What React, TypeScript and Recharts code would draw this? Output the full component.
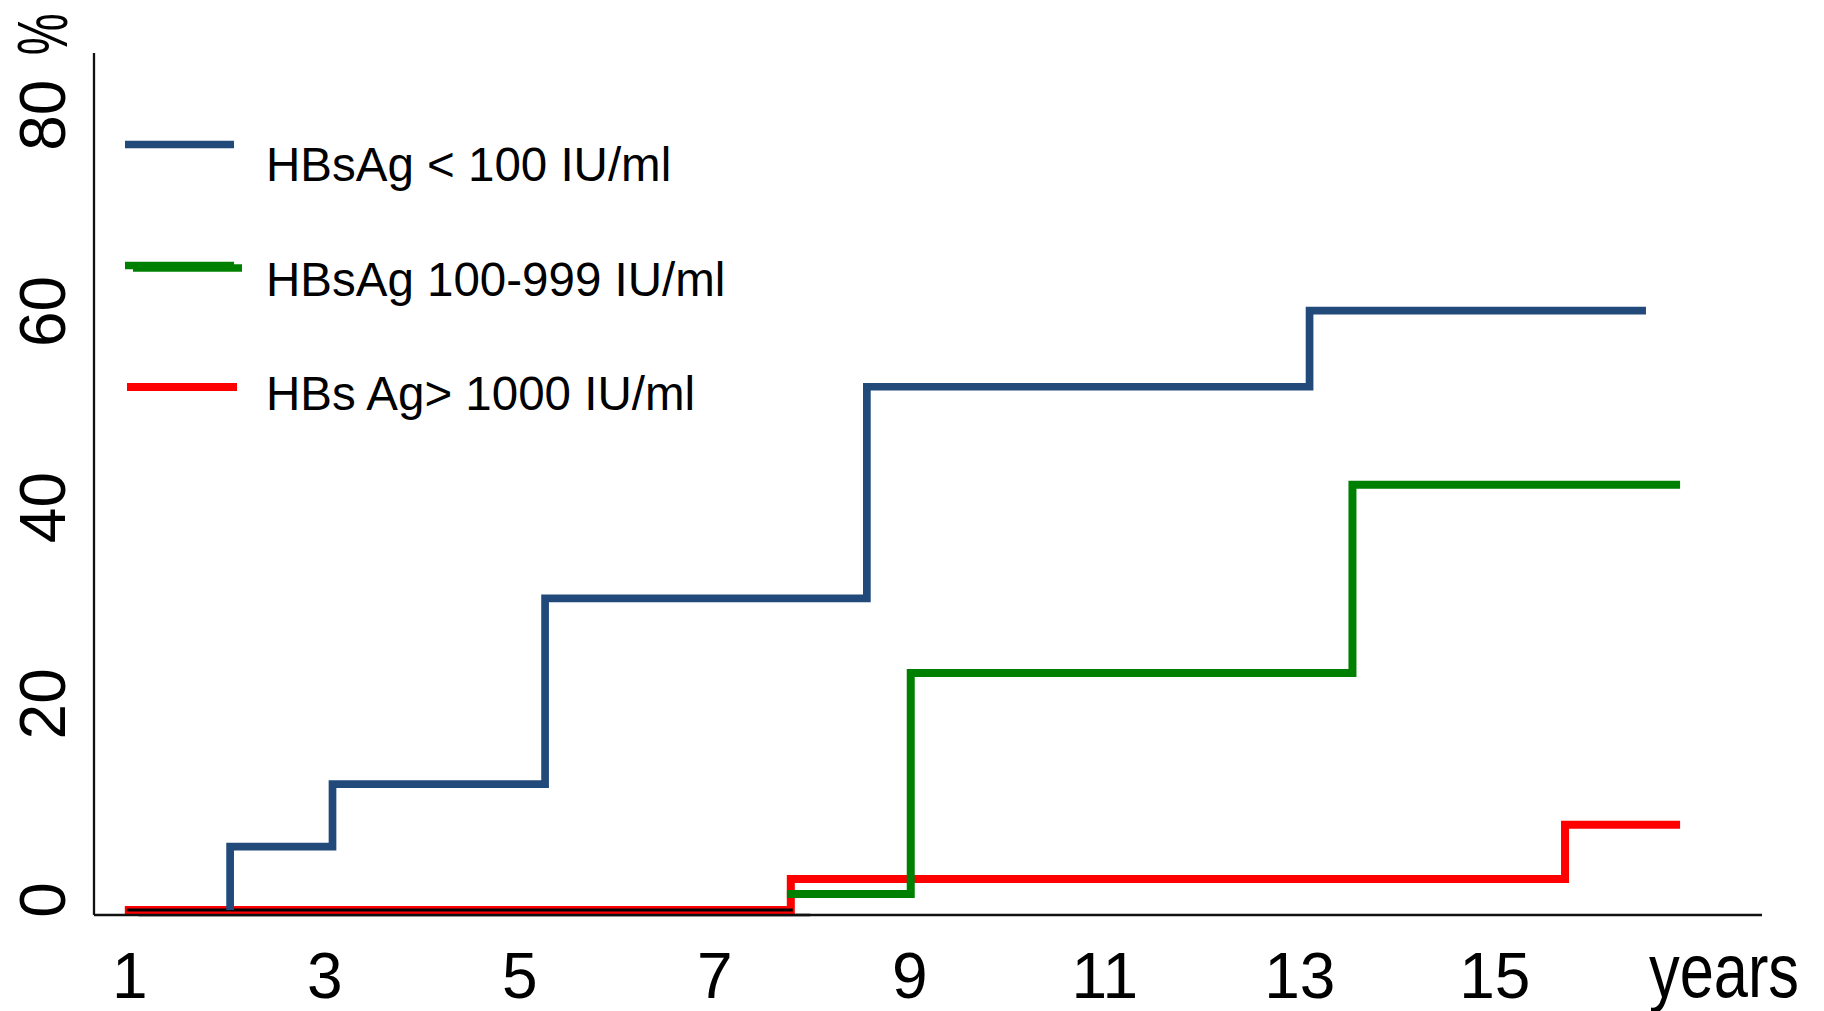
import { Legend, Line, LineChart, ReferenceLine, XAxis, YAxis } from "recharts";

const FONT = '"Liberation Sans", Arial, Helvetica, sans-serif';

// cumulative incidence (%) by year, one step curve per HBsAg group,
// each drawn from its first event (all groups sit at 0 before that)
const lowYears = [2.03, 2.03, 3.08, 5.26, 8.56, 13.1, 16.55];
const lowPct = [0, 6.45, 12.84, 31.77, 53.34, 61.09, 61.09];

const midYears = [7.74, 9.01, 13.54, 16.9];
const midPct = [1.63, 24.16, 43.35, 43.35];

const highYears = [0.95, 7.78, 15.72, 16.9];
const highPct = [0, 3.16, 8.7, 8.7];

// thin dark trace lying on the flat start of the red curve
const zeroYears = [0.97, 7.8];
const zeroPct = [0, 0];

// grey stretch of the time axis
const greyAxisYears = [1.09, 7.98];

const xTicks = [1, 3, 5, 7, 9, 11, 13, 15];
const yTicks = [0, 20, 40, 60, 80];

const groupNames = ["HBsAg < 100 IU/ml", "HBsAg 100-999 IU/ml", "HBs Ag> 1000 IU/ml"];

const X_DOMAIN: [number, number] = [0.634, 17.74];
const Y_DOMAIN: [number, number] = [-0.51, 87.36];

const BLUE = "#214a7b";
const GREEN = "#008000";
const RED = "#ff0000";
const AXIS = "#111111";

const toPoints = (xs: number[], ys: number[]) => xs.map((x, i) => ({ x, y: ys[i] }));

const lowData = toPoints(lowYears, lowPct);
const midData = toPoints(midYears, midPct);
const highData = toPoints(highYears, highPct);
const zeroData = toPoints(zeroYears, zeroPct);

function XTick(props: any) {
  const { x, y, payload } = props;
  return (
    <text x={x} y={y + 83} textAnchor="middle" fontFamily={FONT} fontSize={64} fill="#000">
      {payload.value}
    </text>
  );
}

function YTick(props: any) {
  const { x, y, payload } = props;
  const bx = x - 29;
  const cy = y - 10;
  return (
    <g>
      <text
        x={bx}
        y={cy}
        transform={`rotate(-90 ${bx} ${cy})`}
        textAnchor="middle"
        fontFamily={FONT}
        fontSize={64}
        fill="#000"
      >
        {payload.value}
      </text>
      {payload.value === 80 && (
        <text
          x={bx + 2}
          y={cy - 81}
          transform={`rotate(-90 ${bx + 2} ${cy - 81})`}
          textAnchor="middle"
          fontFamily={FONT}
          fontSize={70}
          textLength={42}
          lengthAdjust="spacingAndGlyphs"
          fill="#000"
        >
          %
        </text>
      )}
    </g>
  );
}

function YearsLabel(props: any) {
  const { x, y, width } = props.viewBox;
  return (
    <text
      x={x + width - 38}
      y={y + 82}
      textAnchor="middle"
      fontFamily={FONT}
      fontSize={76}
      textLength={150}
      lengthAdjust="spacingAndGlyphs"
      fill="#000"
    >
      years
    </text>
  );
}

function KeyPanel() {
  const rows = [144.5, 266.5, 387];
  const text = [181, 295.5, 409.5];
  return (
    <svg width={900} height={440} style={{ display: "block" }}>
      <line x1={125} x2={234} y1={rows[0]} y2={rows[0]} stroke={BLUE} strokeWidth={7.7} />
      <line x1={125} x2={234} y1={rows[1] - 1} y2={rows[1] - 1} stroke={GREEN} strokeWidth={7.4} />
      <line x1={133} x2={242} y1={rows[1] + 1.5} y2={rows[1] + 1.5} stroke={GREEN} strokeWidth={7.4} />
      <line x1={127} x2={237} y1={rows[2]} y2={rows[2]} stroke={RED} strokeWidth={8} />
      {groupNames.map((name, i) => (
        <text key={name} x={266} y={text[i]} fontFamily={FONT} fontSize={47.5} fill="#000">
          {name}
        </text>
      ))}
    </svg>
  );
}

export default function App() {
  return (
    <div style={{ position: "absolute", left: 0, top: 0, fontFamily: FONT, background: "#fff" }}>
      <LineChart width={1824} height={1011} margin={{ top: 53, right: 62, bottom: 0, left: 0 }}>
        <XAxis
          type="number"
          dataKey="x"
          domain={X_DOMAIN}
          allowDataOverflow
          ticks={xTicks}
          interval={0}
          height={96}
          tickLine={false}
          tickSize={0}
          tickMargin={0}
          axisLine={{ stroke: AXIS, strokeWidth: 2.7 }}
          tick={<XTick />}
          label={<YearsLabel />}
        />
        <YAxis
          type="number"
          domain={Y_DOMAIN}
          allowDataOverflow
          ticks={yTicks}
          interval={0}
          width={94}
          tickLine={false}
          tickSize={0}
          tickMargin={0}
          axisLine={{ stroke: AXIS, strokeWidth: 2.3 }}
          tick={<YTick />}
        />
        <ReferenceLine
          segment={[
            { x: greyAxisYears[0], y: Y_DOMAIN[0] },
            { x: greyAxisYears[1], y: Y_DOMAIN[0] },
          ]}
          stroke="#808080"
          strokeWidth={3}
        />
        <Legend
          layout="horizontal"
          verticalAlign="middle"
          align="center"
          wrapperStyle={{ left: 0, top: 0, width: 900, height: 440 }}
          content={() => <KeyPanel />}
        />
        <Line
          data={highData}
          dataKey="y"
          name={groupNames[2]}
          type="stepAfter"
          stroke={RED}
          strokeWidth={8}
          dot={false}
          activeDot={false}
          isAnimationActive={false}
        />
        <Line
          data={zeroData}
          dataKey="y"
          name="zero"
          legendType="none"
          type="linear"
          stroke="#000"
          strokeWidth={3}
          dot={false}
          activeDot={false}
          isAnimationActive={false}
        />
        <Line
          data={lowData}
          dataKey="y"
          name={groupNames[0]}
          type="stepAfter"
          stroke={BLUE}
          strokeWidth={7.7}
          dot={false}
          activeDot={false}
          isAnimationActive={false}
        />
        <Line
          data={midData}
          dataKey="y"
          name={groupNames[1]}
          type="stepAfter"
          stroke={GREEN}
          strokeWidth={8}
          dot={false}
          activeDot={false}
          isAnimationActive={false}
        />
      </LineChart>
    </div>
  );
}
